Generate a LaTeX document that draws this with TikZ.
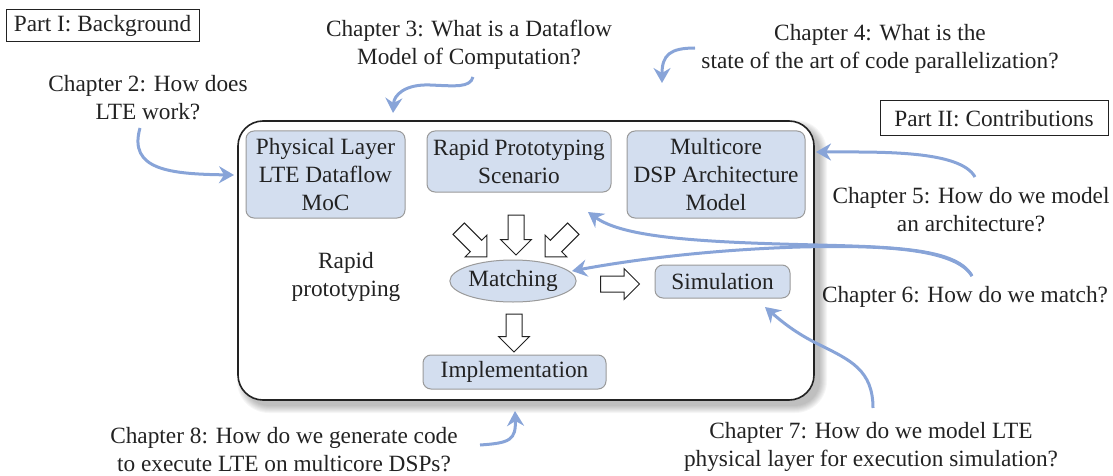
\documentclass[tikz,border=0pt]{standalone}
\usepackage{fontspec}
\setmainfont{Liberation Serif}
\usetikzlibrary{shapes.geometric,shapes.arrows,arrows.meta}
\definecolor{boxfill}{HTML}{D3DEEF}
\definecolor{boxline}{HTML}{9A9A9A}
\definecolor{qblue}{HTML}{88A4D8}
\definecolor{ink}{HTML}{222222}
\begin{document}
\begin{tikzpicture}[x=1pt,y=-1pt,
  every node/.style={text=ink},
  font=\fontsize{23.3}{28}\selectfont,
  comp/.style={draw=boxline, fill=boxfill, rounded corners=8pt, line width=1pt, align=center, inner sep=0pt},
  partbox/.style={draw=ink, line width=1pt, inner sep=0pt},
  chap/.style={align=center, inner sep=0pt},
  hollow/.style={single arrow, draw=ink, fill=white, line width=1pt, inner sep=7.5pt,
     single arrow head extend=7.5pt, single arrow head indent=0pt},
  qarrow/.style={draw=qblue, line width=3pt, -{Stealth[length=15pt,width=17pt,inset=5pt]}}]
\useasboundingbox (0,0) rectangle (1113,476);
% shadow of main box
\foreach \i in {0,1,...,7}{
  \fill[black, opacity=0.035, rounded corners={25pt+\i pt}] (244-\i,127-\i) rectangle (820+\i,406+\i);
}
\node[draw=ink, line width=1.6pt, fill=white, rounded corners=25pt, minimum width=576pt, minimum height=279pt] (main) at (526,260.5) {};

\node[partbox, minimum width=193pt, minimum height=32pt] (p1) at (102.5,26) {Part I: Background};
\node[partbox, minimum width=228pt, minimum height=35pt] (p2) at (994,118.5) {Part II: Contributions};

\node[comp, minimum width=159pt, minimum height=87pt] (phys) at (325.5,174.5) {Physical Layer\\LTE Dataflow\\MoC};
\node[comp, minimum width=184pt, minimum height=61pt] (rps) at (519,161.5) {Rapid Prototyping\\Scenario};
\node[comp, minimum width=178pt, minimum height=87pt] (mdsp) at (716,174.5) {Multicore\\DSP Architecture\\Model};
\node[ellipse, draw=boxline, fill=boxfill, line width=1pt, minimum width=110pt, minimum height=42pt, inner sep=0pt] (match) at (513,281) {Matching};
\node[comp, minimum width=135pt, minimum height=33pt] (sim) at (722.5,281.5) {Simulation};
\node[comp, minimum width=183pt, minimum height=34pt] (impl) at (514.5,372) {Implementation};
\node[chap] (rapid) at (346,277) {Rapid\\prototyping};

\node[hollow, minimum height=40pt, rotate=270] (a1) at (516,231) {};
\node[hollow, minimum height=40pt, rotate=-45] (a2) at (470,240) {};
\node[hollow, minimum height=40pt, rotate=225] (a3) at (562,240) {};
\node[hollow, minimum height=39pt] (a4) at (616,284) {};
\node[hollow, minimum height=38pt, rotate=270] (a5) at (514,329) {};

\node[chap] (ch2) at (148,98) {Chapter 2: How does\\LTE work?};
\node[chap] (ch3) at (469,45) {Chapter 3: What is a Dataflow\\Model of Computation?};
\node[chap] (ch4) at (880,49) {Chapter 4: What is the\\state of the art of code parallelization?};
\node[chap] (ch5) at (971,210) {Chapter 5: How do we model\\an architecture?};
\node[chap] (ch6) at (965,297) {Chapter 6: How do we match?};
\node[chap] (ch7) at (871,447) {Chapter 7: How do we model LTE\\physical layer for execution simulation?};
\node[chap] (ch8) at (284,450) {Chapter 8: How do we generate code\\to execute LTE on multicore DSPs?};

\coordinate (s2) at (140,128);   \coordinate (e2) at (234,175);
\coordinate (s3) at (473,77);    \coordinate (e3) at (393,113);
\coordinate (s4) at (695,48);    \coordinate (e4) at (662,83);
\coordinate (s5) at (975,177);   \coordinate (e5) at (816,152);
\coordinate (s6) at (972,276);   \coordinate (e6a) at (588,212); \coordinate (e6b) at (572,271);
\coordinate (s7) at (873,408);   \coordinate (e7) at (765,307);
\coordinate (s8) at (480,445);   \coordinate (e8) at (515,411);

\draw[qarrow] (s2) .. controls (128,170) and (170,174) .. (e2);
\draw[qarrow] (s3) .. controls (470,88) and (455,86) .. (430,85) .. controls (405,84) and (394,95) .. (e3);
\draw[qarrow] (s4) .. controls (670,48) and (662,55) .. (e4);
\draw[qarrow] (s5) .. controls (960,150) and (880,152) .. (e5);
\draw[qarrow] (s6) .. controls (955,245) and (880,247) .. (780,244) .. controls (680,241) and (620,235) .. (e6a);
\draw[qarrow] (s6) .. controls (955,248) and (880,245) .. (800,247) .. controls (700,250) and (620,262) .. (e6b);
\draw[qarrow] (s7) .. controls (873,370) and (850,360) .. (820,345) .. controls (795,333) and (780,320) .. (e7);
\draw[qarrow] (s8) .. controls (510,443) and (516,440) .. (e8);
\end{tikzpicture}
\end{document}
